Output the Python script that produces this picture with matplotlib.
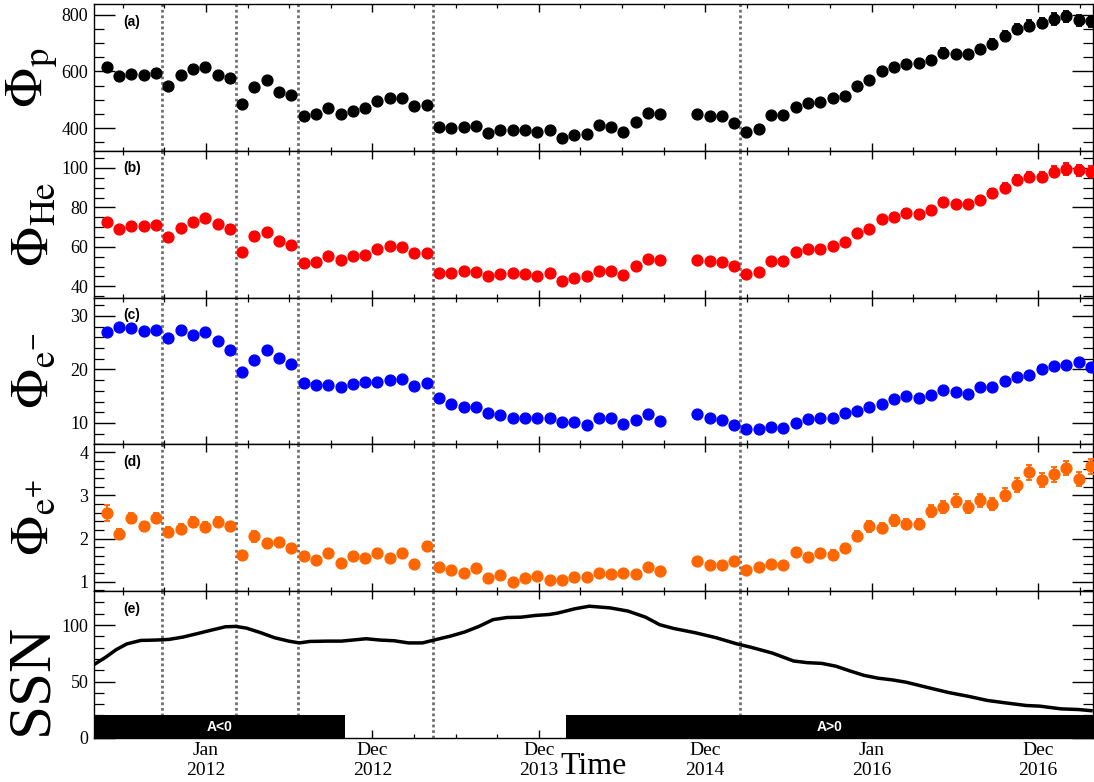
"""Cosmic-ray fluxes per Bartels rotation (p, He, e-, e+) and the sunspot number.

Five stacked panels sharing one time axis; dotted lines mark rotation
boundaries, black bars show the heliospheric polarity periods.
"""
import numpy as np
import matplotlib
matplotlib.use("Agg")
import matplotlib.pyplot as plt
import matplotlib.dates as mdates
from matplotlib.ticker import MultipleLocator, FixedLocator, FixedFormatter

plt.rcParams["font.family"] = ["Liberation Serif", "DejaVu Serif"]
plt.rcParams["mathtext.fontset"] = "stix"

# Bartels rotations (27 days); BR 2472-2473 have no data
BR = list(range(2426, 2472)) + list(range(2474, 2507))
BR_FIRST_START = "2011-05-15"

# fluxes per rotation
PROTON = [616, 585, 590, 587, 596, 549, 587, 610, 616, 587,
          576, 484, 546, 569, 529, 518, 442, 450, 472, 449,
          461, 472, 494, 506, 506, 477, 482, 404, 400, 404,
          408, 384, 395, 395, 392, 388, 395, 365, 377, 381,
          412, 404, 388, 423, 454, 450,
          450, 442, 444, 419, 388, 398, 447, 447, 473, 489,
          491, 505, 512, 549, 569, 601, 616, 627, 631, 639,
          666, 662, 662, 680, 697, 724, 750, 762, 771, 785,
          794, 780, 777]
PROTON_ERR = [13, 11, 11, 11, 11, 10, 11, 11, 11, 11,
              11, 9, 10, 10, 10, 10, 9, 9, 9, 9,
              9, 9, 10, 10, 10, 9, 9, 8, 8, 8,
              8, 8, 8, 8, 8, 8, 8, 8, 8, 8,
              8, 8, 8, 9, 9, 9,
              9, 9, 9, 9, 8, 8, 9, 9, 10, 10,
              10, 11, 11, 12, 12, 13, 13, 13, 14, 14,
              15, 15, 15, 15, 16, 18, 19, 19, 19, 20,
              20, 20, 20]

HELIUM = [72.4, 69.0, 70.4, 70.4, 71.0, 64.8, 69.8, 72.7, 74.4, 71.5,
          69.3, 57.3, 65.7, 67.3, 63.1, 61.0, 51.8, 52.3, 55.6, 53.4,
          55.6, 55.9, 59.0, 60.6, 60.1, 56.8, 56.8, 46.7, 46.7, 47.9,
          47.2, 45.1, 46.2, 46.7, 46.2, 45.1, 46.9, 42.9, 44.2, 45.2,
          47.9, 47.9, 45.9, 50.3, 53.9, 53.4,
          53.4, 52.8, 52.3, 50.3, 46.4, 47.2, 52.8, 52.8, 57.3, 59.0,
          59.0, 60.6, 62.3, 67.0, 69.3, 74.0, 75.4, 77.1, 76.5, 78.7,
          82.7, 81.6, 81.6, 83.8, 87.1, 89.9, 94.1, 95.3, 95.3, 98.2,
          99.5, 98.8, 98.2]
HELIUM_ERR = [2.0, 1.8, 1.8, 1.8, 1.8, 1.7, 1.8, 1.8, 1.9, 1.8,
              1.8, 1.5, 1.7, 1.7, 1.6, 1.6, 1.4, 1.4, 1.5, 1.4,
              1.5, 1.5, 1.5, 1.6, 1.6, 1.5, 1.5, 1.3, 1.3, 1.3,
              1.3, 1.3, 1.3, 1.3, 1.3, 1.3, 1.3, 1.2, 1.3, 1.3,
              1.3, 1.3, 1.3, 1.4, 1.4, 1.4,
              1.4, 1.4, 1.4, 1.4, 1.3, 1.3, 1.4, 1.4, 1.5, 1.6,
              1.6, 1.6, 1.7, 1.8, 1.8, 1.9, 2.0, 2.0, 2.0, 2.0,
              2.1, 2.1, 2.1, 2.2, 2.3, 2.3, 2.4, 2.5, 2.5, 2.8,
              3.0, 2.9, 2.8]

ELECTRON = [27.0, 27.9, 27.7, 27.2, 27.4, 25.9, 27.3, 26.5, 26.9, 25.3,
            23.6, 19.6, 21.7, 23.6, 22.1, 21.0, 17.5, 17.0, 17.0, 16.7,
            17.3, 17.6, 17.6, 18.1, 18.3, 16.9, 17.5, 14.7, 13.6, 12.9,
            12.9, 11.8, 11.4, 10.9, 11.0, 11.0, 10.9, 10.1, 10.1, 9.7,
            10.9, 10.9, 9.9, 10.6, 11.7, 10.4,
            11.7, 10.9, 10.6, 9.7, 8.8, 8.8, 9.3, 9.0, 10.0, 10.7,
            10.9, 10.9, 11.8, 12.3, 12.9, 13.5, 14.5, 15.1, 14.6, 15.2,
            16.1, 15.7, 15.4, 16.7, 16.7, 17.8, 18.5, 18.9, 20.1, 20.7,
            20.9, 21.3, 20.4]

POSITRON = [2.59, 2.11, 2.48, 2.28, 2.48, 2.16, 2.23, 2.38, 2.27, 2.38,
            2.28, 1.63, 2.05, 1.89, 1.91, 1.77, 1.60, 1.50, 1.66, 1.44,
            1.59, 1.56, 1.66, 1.56, 1.66, 1.42, 1.83, 1.34, 1.27, 1.21,
            1.31, 1.09, 1.16, 1.00, 1.08, 1.14, 1.05, 1.05, 1.12, 1.11,
            1.21, 1.17, 1.20, 1.17, 1.34, 1.25,
            1.47, 1.39, 1.39, 1.47, 1.27, 1.33, 1.41, 1.38, 1.68, 1.58,
            1.66, 1.63, 1.78, 2.06, 2.28, 2.25, 2.42, 2.33, 2.33, 2.64,
            2.72, 2.87, 2.73, 2.89, 2.79, 3.01, 3.24, 3.53, 3.36, 3.49,
            3.63, 3.37, 3.67]
POSITRON_ERR = [0.18, 0.12, 0.12, 0.11, 0.12, 0.11, 0.11, 0.12, 0.11, 0.12,
                0.11, 0.09, 0.12, 0.10, 0.10, 0.09, 0.08, 0.08, 0.09, 0.08,
                0.08, 0.08, 0.09, 0.08, 0.09, 0.08, 0.09, 0.07, 0.07, 0.07,
                0.07, 0.06, 0.07, 0.06, 0.06, 0.07, 0.06, 0.06, 0.07, 0.07,
                0.07, 0.07, 0.07, 0.07, 0.08, 0.07,
                0.08, 0.08, 0.08, 0.08, 0.07, 0.07, 0.08, 0.08, 0.10, 0.09,
                0.10, 0.10, 0.10, 0.11, 0.12, 0.12, 0.13, 0.12, 0.12, 0.14,
                0.14, 0.15, 0.14, 0.15, 0.14, 0.15, 0.16, 0.17, 0.16, 0.17,
                0.17, 0.16, 0.17]

# smoothed sunspot number (decimal year, value)
SSN_YEAR = [2011.329, 2011.397, 2011.460, 2011.524, 2011.608, 2011.693, 2011.778,
            2011.862, 2011.947, 2012.032, 2012.117, 2012.180, 2012.243, 2012.328,
            2012.412, 2012.497, 2012.561, 2012.624, 2012.730, 2012.815, 2012.878,
            2012.963, 2013.048, 2013.132, 2013.217, 2013.301, 2013.386, 2013.471,
            2013.555, 2013.640, 2013.725, 2013.809, 2013.894, 2013.978, 2014.063,
            2014.113, 2014.219, 2014.304, 2014.430, 2014.536, 2014.642, 2014.727,
            2014.811, 2014.938, 2015.066, 2015.192, 2015.277, 2015.404, 2015.531,
            2015.615, 2015.700, 2015.785, 2015.870, 2015.954, 2016.038, 2016.123,
            2016.208, 2016.335, 2016.462, 2016.589, 2016.695, 2016.800, 2016.928,
            2017.012, 2017.139, 2017.245, 2017.319]
SSN_VAL = [65.2, 71.5, 78.2, 83.3, 86.4, 86.7, 87.3,
           89.4, 92.4, 95.5, 98.5, 98.8, 97.3, 93.3,
           88.8, 85.8, 84.2, 85.5, 85.8, 85.8, 86.7,
           87.9, 86.7, 86.1, 84.2, 84.2, 87.3, 90.3,
           93.9, 98.8, 104.8, 106.7, 107.0, 108.5, 109.4,
           110.6, 114.5, 116.7, 115.2, 112.4, 107.0, 100.3,
           97.0, 93.3, 88.8, 83.3, 80.3, 75.2, 68.2,
           66.7, 66.1, 63.6, 59.4, 55.5, 53.0, 51.5,
           49.4, 44.8, 40.3, 36.7, 33.3, 31.2, 28.8,
           28.2, 25.8, 25.2, 24.2]

# rotations whose start is marked by a dotted line
BR_LINES = [2431, 2437, 2442, 2453, 2478]
# polarity periods: (label, start, end); None = axis edge
POLARITY = [("A<0", None, "2012-11-01"), ("A>0", "2014-03-01", None)]

XLIM_YEARS = (2011.327, 2017.331)


def main() -> None:
    d0 = mdates.date2num(np.datetime64(BR_FIRST_START))
    x_br = d0 + (np.array(BR) - 2426) * 27 + 13.5
    x_lines = [d0 + (b - 2426) * 27 for b in BR_LINES]

    year0 = mdates.date2num(np.datetime64("2012-01-01"))
    to_num = lambda yr: year0 + (np.asarray(yr) - 2012.0) * 365.25
    xlim = (to_num(XLIM_YEARS[0]), to_num(XLIM_YEARS[1]))

    fig = plt.figure(figsize=(10.94, 7.82), dpi=100)
    axes = fig.subplots(5, 1, sharex=True, gridspec_kw=dict(hspace=0))
    fig.subplots_adjust(left=94 / 1094, right=1093 / 1094,
                        top=1 - 4 / 782, bottom=1 - 738 / 782)

    panels = [
        (PROTON, PROTON_ERR, "black", r"$\Phi_{\mathrm{p}}$", (320, 838), 200, 50),
        (HELIUM, HELIUM_ERR, "#ff0000", r"$\Phi_{\mathrm{He}}$", (34.3, 108.7), 20, 5),
        (ELECTRON, None, "#0000ff", r"$\Phi_{\mathrm{e}^{-}}$", (6.0, 33.4), 10, 2),
        (POSITRON, POSITRON_ERR, "#ff6600", r"$\Phi_{\mathrm{e}^{+}}$", (0.78, 4.18), 1, 0.2),
    ]
    letters = "abcde"

    for ax, (vals, errs, col, lab, ylim, maj, mnr) in zip(axes[:4], panels):
        if errs is None:
            ax.plot(x_br, vals, "o", color=col, ms=7.8, zorder=3)
        else:
            ax.errorbar(x_br, vals, yerr=errs, fmt="o", color=col, ms=7.8,
                        elinewidth=1.3, capsize=2.5, capthick=1.3, zorder=3)
        ax.set_ylim(*ylim)
        ax.yaxis.set_major_locator(MultipleLocator(maj))
        ax.yaxis.set_minor_locator(MultipleLocator(mnr))
        ax.set_ylabel(lab, fontsize=38)
        ax.yaxis.set_label_coords(-0.035, 0.5)

    # sunspot number panel
    ax = axes[4]
    ax.plot(to_num(SSN_YEAR), SSN_VAL, color="black", lw=2.5, zorder=2)
    for text, start, end in POLARITY:
        x0 = xlim[0] if start is None else mdates.date2num(np.datetime64(start))
        x1 = xlim[1] if end is None else mdates.date2num(np.datetime64(end))
        ax.fill_between([x0, x1], 0, 20, color="black", lw=0, zorder=3)
        ax.text((x0 + x1) / 2, 10, text, color="white", ha="center", va="center",
                fontsize=10, fontweight="bold", family="Liberation Sans", zorder=4)
    ax.set_ylim(0, 130)
    ax.yaxis.set_major_locator(MultipleLocator(50))
    ax.yaxis.set_minor_locator(MultipleLocator(10))
    ax.set_ylabel("SSN", fontsize=44)
    ax.yaxis.set_label_coords(-0.035, 0.40)

    # shared time axis: ROOT-style ticks every 365.25 days from Jan 2012
    major = year0 + 365.25 * np.arange(-1, 7)
    minor = year0 + 365.25 / 4 * np.arange(-8, 28)
    labels = [mdates.num2date(t).strftime("%b\n%Y") for t in major]

    for i, ax in enumerate(axes):
        for xl in x_lines:
            ax.axvline(xl, color="#707070", lw=2.0, ls=(0, (1, 1)), zorder=1)
        ax.set_xlim(*xlim)
        ax.xaxis.set_major_locator(FixedLocator(major))
        ax.xaxis.set_minor_locator(FixedLocator(minor))
        ax.xaxis.set_major_formatter(FixedFormatter(labels))
        ax.tick_params(axis="y", which="major", direction="in", left=True, right=True,
                       length=15, width=1.0, labelsize=13, pad=4)
        ax.tick_params(axis="y", which="minor", direction="in", left=True, right=True,
                       length=7.5, width=0.9)
        ax.tick_params(axis="x", which="major", direction="in", top=True, bottom=True,
                       length=5.5, width=1.0, labelsize=14, pad=3)
        ax.tick_params(axis="x", which="minor", direction="in", top=True, bottom=True,
                       length=3, width=0.9)
        for sp in ax.spines.values():
            sp.set_linewidth(1.0)
        ax.text(0.029, 0.88, f"({letters[i]})", transform=ax.transAxes,
                fontsize=10, fontweight="bold", family="Liberation Sans",
                ha="left", va="center")

    fig.text(594 / 1094, 1 - 766 / 782, "Time", ha="center", va="center", fontsize=23)

    fig.savefig("out.png", dpi=100)


if __name__ == "__main__":
    main()
